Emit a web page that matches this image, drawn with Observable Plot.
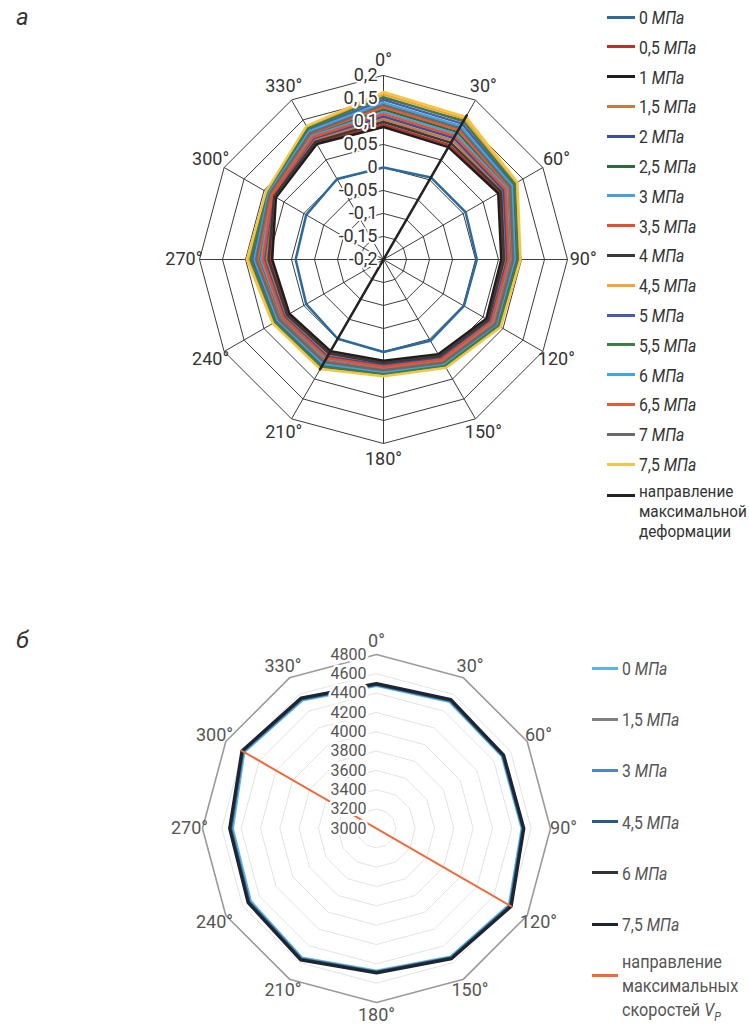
<!DOCTYPE html>
<html><head><meta charset="utf-8">
<script src="https://cdn.jsdelivr.net/npm/d3@7"></script>
<script src="https://cdn.jsdelivr.net/npm/@observablehq/plot@0.6"></script>
<style>
body{margin:0;background:#fff;width:749px;height:1024px;position:relative;overflow:hidden;font-family:Roboto,"Liberation Sans",sans-serif;color:#3a3a3a}
#chartA,#chartB{position:absolute;left:0}
#chartA{top:0}#chartB{top:600px}
.panel{position:absolute;left:16px;font-style:italic;font-size:24px;line-height:1;transform:translateY(-50%);color:#333}
.item{position:absolute;font-size:19px;line-height:1;white-space:nowrap;transform:translateY(-50%) scaleX(0.83);transform-origin:0 50%}
.multi{position:absolute;white-space:nowrap;transform:scaleX(0.9);transform-origin:0 0}
.sw{position:absolute;height:3px}
</style></head><body>
<div class="panel" style="top:17px">а</div>
<div class="panel" style="top:640px">б</div>
<div id="chartA"></div>
<div id="chartB"></div>
<div id="legA"></div>
<div id="legB"></div>
<script>
// ---------- Chart а : deformation ----------
const anglesA = [0, 30, 60, 90, 120, 150, 180, 210, 240, 270, 300, 330];
const angleLabels = ["0°", "30°", "60°", "90°", "120°", "150°", "180°", "210°", "240°", "270°", "300°", "330°"];
const ticksA = [-0.2, -0.15, -0.1, -0.05, 0, 0.05, 0.1, 0.15, 0.2];
const tickLabelsA = ["-0,2", "-0,15", "-0,1", "-0,05", "0", "0,05", "0,1", "0,15", "0,2"];
const pressuresA = ["0", "0,5", "1", "1,5", "2", "2,5", "3", "3,5", "4", "4,5", "5", "5,5", "6", "6,5", "7", "7,5"];
const colorsA = ["#2c6a9c", "#b8302a", "#1e1e1e", "#c87a40", "#3b4fa0", "#2f6b3a", "#4aa0d8", "#e4502e", "#3a3a3a", "#f2a53a", "#4b5cb0", "#3e7d44", "#3ea6e0", "#ea5a32", "#6a6a6a", "#f5c444"];
const a0  = [0.000, 0.006, 0.006, 0.003, 0.002, 0.004, 0.001, -0.001, -0.006, -0.009, -0.006, 0.002];
const a05 = [0.093, 0.087, 0.091, 0.059, 0.061, 0.040, 0.022, 0.033, 0.039, 0.046, 0.072, 0.093];
const a1  = [0.088, 0.082, 0.088, 0.056, 0.058, 0.038, 0.020, 0.030, 0.036, 0.042, 0.070, 0.090];
const a15 = [0.105, 0.099, 0.099, 0.065, 0.066, 0.045, 0.027, 0.040, 0.045, 0.054, 0.076, 0.100];
const a2  = [0.111, 0.105, 0.102, 0.069, 0.069, 0.048, 0.030, 0.044, 0.049, 0.059, 0.078, 0.104];
const a25 = [0.126, 0.120, 0.112, 0.077, 0.076, 0.055, 0.037, 0.053, 0.057, 0.070, 0.083, 0.113];
const a3  = [0.121, 0.115, 0.109, 0.074, 0.074, 0.053, 0.035, 0.050, 0.054, 0.066, 0.081, 0.110];
const a35 = [0.116, 0.110, 0.106, 0.072, 0.071, 0.051, 0.033, 0.047, 0.052, 0.062, 0.079, 0.107];
const a4  = [0.099, 0.093, 0.095, 0.062, 0.063, 0.043, 0.025, 0.036, 0.042, 0.050, 0.074, 0.096];
const a45 = [0.159, 0.153, 0.133, 0.095, 0.091, 0.070, 0.052, 0.072, 0.075, 0.093, 0.093, 0.132];
const a5  = [0.147, 0.141, 0.125, 0.089, 0.086, 0.065, 0.047, 0.065, 0.069, 0.085, 0.090, 0.125];
const a55 = [0.153, 0.147, 0.129, 0.092, 0.089, 0.067, 0.049, 0.069, 0.072, 0.089, 0.092, 0.129];
const a6  = [0.141, 0.135, 0.122, 0.085, 0.083, 0.062, 0.044, 0.062, 0.065, 0.080, 0.088, 0.122];
const a65 = [0.131, 0.125, 0.115, 0.080, 0.079, 0.057, 0.039, 0.056, 0.060, 0.073, 0.084, 0.116];
const a7  = [0.136, 0.130, 0.118, 0.082, 0.081, 0.059, 0.041, 0.058, 0.062, 0.077, 0.086, 0.118];
const a75 = [0.164, 0.158, 0.136, 0.098, 0.094, 0.072, 0.054, 0.075, 0.078, 0.097, 0.095, 0.135];
const maxDefAngles = [30, 210];
const maxDefValues = [0.162, 0.076];

// ---------- Chart б : P-wave velocity ----------
const anglesB = [0, 30, 60, 90, 120, 150, 180, 210, 240, 270, 300, 330];
const ticksB = [3000, 3200, 3400, 3600, 3800, 4000, 4200, 4400, 4600, 4800];
const tickLabelsB = ["3000", "3200", "3400", "3600", "3800", "4000", "4200", "4400", "4600", "4800"];
const pressuresB = ["0", "1,5", "3", "4,5", "6", "7,5"];
const colorsB = ["#5ab4e6", "#808080", "#4f86c6", "#2d5b7e", "#333333", "#1c2530"];
const widthsB = [2, 2, 2, 2.5, 2.5, 3];
const b0  = [4475, 4510, 4495, 4500, 4580, 4530, 4470, 4540, 4500, 4485, 4578, 4530];
const b15 = [4488, 4525, 4508, 4512, 4595, 4542, 4482, 4555, 4518, 4504, 4594, 4545];
const b3  = [4485, 4522, 4505, 4510, 4592, 4540, 4480, 4552, 4515, 4500, 4590, 4542];
const b45 = [4490, 4528, 4510, 4515, 4598, 4545, 4485, 4558, 4522, 4508, 4597, 4548];
const b6  = [4495, 4535, 4515, 4520, 4605, 4550, 4490, 4565, 4530, 4515, 4603, 4555];
const b75 = [4500, 4540, 4520, 4525, 4610, 4555, 4495, 4570, 4535, 4520, 4608, 4560];
const maxVelAngles = [300, 120];
const maxVelValues = [4608, 4610];

const FONT = 'Roboto,"Liberation Sans",sans-serif';
const rad = a => a * Math.PI / 180;

// ---- build A ----
const seriesA = [a0, a05, a1, a15, a2, a25, a3, a35, a4, a45, a5, a55, a6, a65, a7, a75];
const minA = ticksA[0], maxA = ticksA[ticksA.length - 1];
const rA = v => (v - minA) / (maxA - minA);
const pxA = (v, a) => rA(v) * Math.sin(rad(a));
const pyA = (v, a) => rA(v) * Math.cos(rad(a));
const rowsA = pressuresA.flatMap((p, i) => seriesA[i].map((v, j) => ({p, a: anglesA[j], v})));
const gridA = ticksA.slice(1).flatMap(t => anglesA.map(a => ({t, a})));
const maxDefRows = maxDefAngles.map((a, i) => ({a, v: maxDefValues[i]}));

const chartA = Plot.plot({
  width: 600, height: 470,
  marginLeft: 199, marginRight: 33, marginTop: 75, marginBottom: 27,
  x: {domain: [-1, 1], axis: null},
  y: {domain: [-1, 1], axis: null},
  color: {domain: pressuresA, range: colorsA},
  style: {fontFamily: FONT, overflow: "visible", background: "transparent"},
  marks: [
    Plot.line(gridA, {x: d => pxA(d.t, d.a), y: d => pyA(d.t, d.a), z: "t", curve: "linear-closed", stroke: "#3c3c3c", strokeWidth: 1}),
    Plot.link(anglesA, {x1: 0, y1: 0, x2: a => pxA(maxA, a), y2: a => pyA(maxA, a), stroke: "#3c3c3c", strokeWidth: 1}),
    Plot.line(rowsA, {x: d => pxA(d.v, d.a), y: d => pyA(d.v, d.a), z: "p", stroke: "p", strokeWidth: 2.5, curve: "linear-closed"}),
    Plot.line(maxDefRows, {x: d => pxA(d.v, d.a), y: d => pyA(d.v, d.a), stroke: "#222", strokeWidth: 2.5}),
    Plot.text(ticksA, {x: 0, y: t => pyA(t, 0), text: (t, i) => tickLabelsA[i], textAnchor: "end", dx: -6, fontSize: 18, fill: "#333", stroke: "white", strokeWidth: 4}),
    Plot.text(anglesA, {x: a => 1.085 * Math.sin(rad(a)), y: a => 1.085 * Math.cos(rad(a)), text: (a, i) => angleLabels[i], fontSize: 18, fill: "#333"})
  ]
});
document.getElementById("chartA").append(chartA);

// ---- build B ----
const seriesB = [b0, b15, b3, b45, b6, b75];
const minB = ticksB[0], maxB = ticksB[ticksB.length - 1];
const rB = v => (v - minB) / (maxB - minB);
const pxB = (v, a) => rB(v) * Math.sin(rad(a));
const pyB = (v, a) => rB(v) * Math.cos(rad(a));
const rowsB = pressuresB.flatMap((p, i) => seriesB[i].map((v, j) => ({p, a: anglesB[j], v})));
const gridB = ticksB.slice(1).flatMap(t => anglesB.map(a => ({t, a})));
const maxVelRows = maxVelAngles.map((a, i) => ({a, v: maxVelValues[i]}));

const chartB = Plot.plot({
  width: 580, height: 430,
  marginLeft: 202, marginRight: 30, marginTop: 54, marginBottom: 28,
  x: {domain: [-1, 1], axis: null},
  y: {domain: [-1, 1], axis: null},
  color: {domain: pressuresB, range: colorsB},
  style: {fontFamily: FONT, overflow: "visible", background: "transparent"},
  marks: [
    Plot.line(gridB.filter(d => d.t < maxB), {x: d => pxB(d.t, d.a), y: d => pyB(d.t, d.a), z: "t", curve: "linear-closed", stroke: "#dcdcdc", strokeWidth: 0.8}),
    Plot.line(gridB.filter(d => d.t === maxB), {x: d => pxB(d.t, d.a), y: d => pyB(d.t, d.a), curve: "linear-closed", stroke: "#9a9a9a", strokeWidth: 1.6}),
    ...pressuresB.map((p, i) => Plot.line(rowsB.filter(d => d.p === p), {x: d => pxB(d.v, d.a), y: d => pyB(d.v, d.a), stroke: "p", strokeWidth: widthsB[i], curve: "linear-closed"})),
    Plot.line(maxVelRows, {x: d => pxB(d.v, d.a), y: d => pyB(d.v, d.a), stroke: "#ee6a3c", strokeWidth: 2}),
    Plot.text(ticksB, {x: 0, y: t => pyB(t, 0), text: (t, i) => tickLabelsB[i], textAnchor: "end", dx: -10, fontSize: 16, fill: "#555", stroke: "white", strokeWidth: 5}),
    Plot.text(anglesB, {x: a => 1.075 * Math.sin(rad(a)), y: a => 1.075 * Math.cos(rad(a)), text: (a, i) => angleLabels[i], fontSize: 18, fill: "#555"})
  ]
});
document.getElementById("chartB").append(chartB);

// ---- legends ----
function addLegend(container, items, opts) {
  const el = document.getElementById(container);
  items.forEach((it) => {
    const sw = document.createElement("div");
    sw.className = "sw";
    sw.style.left = opts.swX + "px"; sw.style.width = opts.swW + "px";
    sw.style.top = (it.swY - 1.5) + "px"; sw.style.background = it.color;
    if (it.thick) { sw.style.height = "3.5px"; }
    el.append(sw);
    const t = document.createElement("div");
    if (it.lines) {
      t.className = "multi";
      t.style.fontSize = opts.fs + "px";
      t.style.lineHeight = opts.lh + "px";
      t.style.top = (it.y - opts.lh / 2) + "px";
      t.innerHTML = it.lines.join("<br>");
    } else {
      t.className = "item";
      t.style.top = it.y + "px";
      t.innerHTML = it.label + " <i>МПа</i>";
    }
    t.style.left = opts.textX + "px";
    t.style.color = opts.textColor;
    el.append(t);
  });
}
addLegend("legA", [
  ...pressuresA.map((p, i) => ({label: p, color: colorsA[i], y: 17 + i * 29.8, swY: 17 + i * 29.8})),
  {lines: ["направление", "максимальной", "деформации"], color: "#222", y: 491, swY: 495, thick: true}
], {swX: 607, swW: 28, textX: 639, textColor: "#333", lh: 20, fs: 17});
addLegend("legB", [
  ...pressuresB.map((p, i) => ({label: p, color: colorsB[i], y: 668 + i * 51.2, swY: 668 + i * 51.2})),
  {lines: ["направление", "максимальных", "скоростей <i>V<sub style=\"font-size:12px;line-height:0\">P</sub></i>"], color: "#ee6a3c", y: 962, swY: 975}
], {swX: 592, swW: 26, textX: 622, textColor: "#555", lh: 24, fs: 18});
</script>
</body></html>
